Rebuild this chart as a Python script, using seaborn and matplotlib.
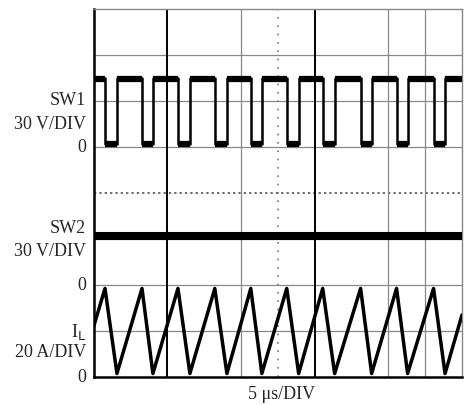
import numpy as np
import matplotlib
matplotlib.use("Agg")
import matplotlib.pyplot as plt
import seaborn as sns

# time of switching edges, in microseconds (5 us/DIV)
sw1_fall = [0.78, 3.29, 5.73, 8.23, 10.67, 13.11, 15.55, 18.12, 20.56, 23.07]
sw1_rise = [1.59, 4.03, 6.54, 9.05, 11.42, 13.92, 16.36, 18.87, 21.31, 23.85]
sw1_high = 45.0   # V
sw1_low = 2.0     # V
sw2_level = 32.0  # V
il_peak = 38.5    # A
il_valley = 1.5   # A
il_start = 21.7   # A
il_end = 27.0     # A
t_end = 25.0

# channel offsets (divisions) and scales
sw1_zero, sw2_zero, il_zero = 5, 2, 0
v_div, a_div = 30.0, 20.0

sns.set_style("white")
plt.rcParams['font.family'] = ['Liberation Serif', 'DejaVu Serif']

fig = plt.figure(figsize=(4.69, 4.06), dpi=100)
ax = fig.add_axes([93.5/469, 1-378/406, (462-93.5)/469, (378-10)/406])

# grid
for y in [1, 2, 3, 5, 6, 7]:
    ax.axhline(y, color='#888888', lw=0.9, zorder=1)
ax.axhline(4, color='#444444', lw=1.1, ls=(0, (1.5, 2)), zorder=1)
for x, c, lw, ls in [(5, 'black', 1.4, '-'), (10, '#888888', 0.9, '-'),
                     (12.5, '#777777', 1.2, (0, (1, 4))), (15, 'black', 1.4, '-'),
                     (20, '#888888', 0.9, '-'), (22.5, '#888888', 0.9, '-')]:
    ax.axvline(x, color=c, lw=lw, ls=ls, zorder=1)

# SW1 square wave
t_sw1 = [0.0]
v_sw1 = [sw1_high]
for f, r in zip(sw1_fall, sw1_rise):
    t_sw1 += [f, f, r, r]
    v_sw1 += [sw1_high, sw1_low, sw1_low, sw1_high]
t_sw1.append(t_end)
v_sw1.append(sw1_high)
y_sw1 = sw1_zero + np.array(v_sw1) / v_div
sns.lineplot(x=t_sw1, y=y_sw1, sort=False, estimator=None, color='black', lw=1.8, ax=ax, zorder=3)
# thick flat parts of the trace
starts = [0.0] + sw1_rise
ends = sw1_fall + [t_end]
y_hi = sw1_zero + sw1_high / v_div - 0.02
y_lo = sw1_zero + sw1_low / v_div
ax.hlines([y_hi] * len(starts), starts, ends, color='black', lw=4.5, zorder=3)
ax.hlines([y_lo] * len(sw1_fall), sw1_fall, sw1_rise, color='black', lw=4.5, zorder=3)

# SW2 flat trace
sns.lineplot(x=[0.0, t_end], y=[sw2_zero + sw2_level / v_div] * 2, sort=False,
             estimator=None, color='black', lw=5.8, ax=ax, zorder=3)

# inductor current triangle
t_il = [0.0]
i_il = [il_start]
for f, r in zip(sw1_fall, sw1_rise):
    t_il += [f, r]
    i_il += [il_peak, il_valley]
t_il.append(t_end)
i_il.append(il_end)
sns.lineplot(x=t_il, y=il_zero + np.array(i_il) / a_div, sort=False, estimator=None,
             color='black', lw=2.5, ax=ax, zorder=3)

ax.set_xlim(0, t_end)
ax.set_ylim(0, 8)
ax.set_xticks([])
ax.set_yticks([])
for s in ['top', 'right']:
    ax.spines[s].set_color('#888888')
    ax.spines[s].set_linewidth(1.0)
for s in ['left', 'bottom']:
    ax.spines[s].set_color('black')
    ax.spines[s].set_linewidth(1.8)

fs = 13
tx = -0.02
lab = dict(transform=ax.get_yaxis_transform(), ha='right', va='center', fontsize=fs)
ax.text(tx, 5 + 1.04, 'SW1', **lab)
ax.text(tx, 5 + 0.52, '30 V/DIV', **lab)
ax.text(tx, 5, '0', **lab)
ax.text(tx, 2 + 1.26, 'SW2', **lab)
ax.text(tx, 2 + 0.74, '30 V/DIV', **lab)
ax.text(tx, 2, '0', **lab)
ax.text(tx, 1.0, r'I$_{\rm L}$', **lab)
ax.text(tx, 0.55, '20 A/DIV', **lab)
ax.text(tx, 0, '0', **lab)
ax.text(0.51, -0.022, '5 \u03bcs/DIV', transform=ax.transAxes, ha='center', va='top', fontsize=fs)

fig.savefig('out.png', dpi=100)
